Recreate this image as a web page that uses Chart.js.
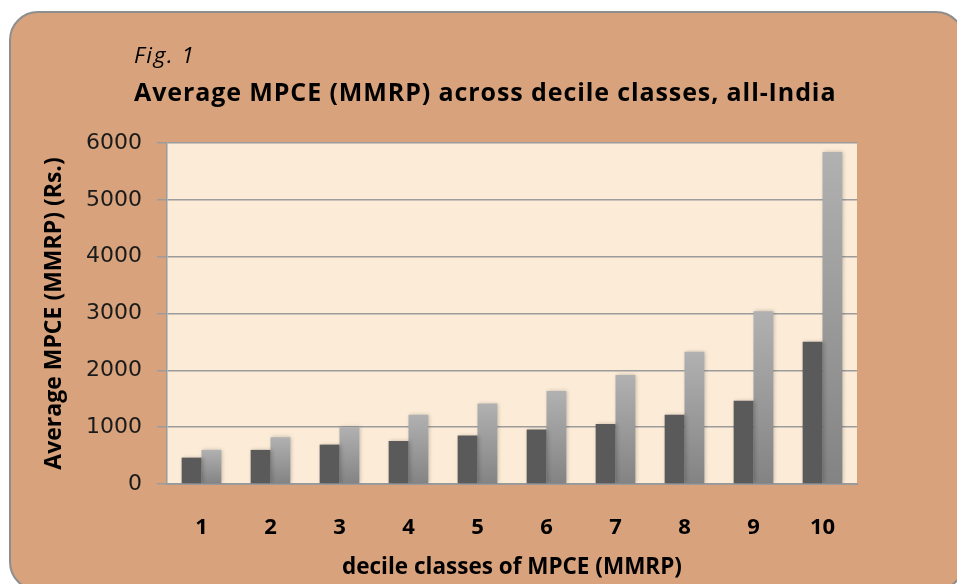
<!DOCTYPE html>
<html>
<head>
<meta charset="utf-8">
<title>Average MPCE (MMRP) across decile classes</title>
<script src="https://cdn.jsdelivr.net/npm/chart.js@4.4.1/dist/chart.umd.min.js"></script>
<style>
    html, body { margin: 0; padding: 0; background: #ffffff; }
    #wrap { width: 957px; height: 584px; }
</style>
</head>
<body>
<div id="wrap"><canvas id="mpce-chart" width="957" height="584"></canvas></div>
<script>
    "use strict";

    // Data
    var deciles = ["1", "2", "3", "4", "5", "6", "7", "8", "9", "10"];
    var darkSeries = [464, 600, 693, 758, 852, 958, 1054, 1218, 1464, 2501];
    var lightSeries = [600, 824, 1000, 1217, 1416, 1635, 1916, 2325, 3040, 5840];
    var yTicks = [0, 1000, 2000, 3000, 4000, 5000, 6000];

    var figLabel = "Fig. 1";
    var chartTitle = "Average MPCE (MMRP) across decile classes, all-India";

    var FONT = "'Open Sans', 'Noto Sans', sans-serif";
    var TICK_FONT = "'DejaVu Sans', 'Open Sans', sans-serif";

    // per-bar vertical gradient for the light series
    function lightFill(c) {
        var chart = c.chart;
        if (!chart.chartArea || c.type !== "data") return "#9c9c9c";
        var y = chart.scales.y;
        var top = y.getPixelForValue(c.raw);
        var bottom = y.getPixelForValue(0);
        var g = chart.ctx.createLinearGradient(0, top, 0, bottom);
        g.addColorStop(0, "#b1b1b1");
        g.addColorStop(1, "#838383");
        return g;
    }

    // Panel background, plot fill, bar shadow, titles
    var panel = {
        id: "panel",
        beforeDraw: function (chart) {
            var ctx = chart.ctx, a = chart.chartArea;
            ctx.save();
            ctx.fillStyle = "#ffffff";
            ctx.fillRect(0, 0, chart.width, chart.height);
            ctx.beginPath();
            ctx.roundRect(10, 12, 954, 578, 28);
            ctx.fillStyle = "#d8a27c";
            ctx.fill();
            ctx.lineWidth = 2;
            ctx.strokeStyle = "#8e8e8e";
            ctx.stroke();
            ctx.fillStyle = "#fbebd7";
            ctx.fillRect(a.left, a.top, a.right - a.left, a.bottom - a.top);
            ctx.restore();
        },
        beforeDatasetsDraw: function (chart) {
            var ctx = chart.ctx;
            ctx.save();
            ctx.shadowColor = "rgba(0,0,0,0.22)";
            ctx.shadowBlur = 4;
            ctx.shadowOffsetX = 1;
            ctx.shadowOffsetY = 0;
        },
        afterDatasetsDraw: function (chart) {
            chart.ctx.restore();
        },
        afterDraw: function (chart) {
            var ctx = chart.ctx;
            ctx.save();
            ctx.fillStyle = "#000000";
            ctx.textAlign = "left";
            ctx.textBaseline = "alphabetic";
            ctx.font = "italic 22.5px " + FONT;
            ctx.letterSpacing = "1.6px";
            ctx.fillText(figLabel, 134, 63);
            ctx.font = "bold 25px " + FONT;
            ctx.letterSpacing = "0.9px";
            ctx.fillText(chartTitle, 134, 101);
            ctx.restore();
        }
    };

    var ctx1 = document.getElementById("mpce-chart").getContext("2d");
    var mpceChart = new Chart(ctx1, {
        type: "bar",
        data: {
            labels: deciles,
            datasets: [{
                    label: "Series 1",
                    data: darkSeries,
                    backgroundColor: "#5a5a5a",
                    borderWidth: 0
                },
                {
                    label: "Series 2",
                    data: lightSeries,
                    backgroundColor: lightFill,
                    borderWidth: 0
                }
            ]
        },
        options: {
            responsive: false,
            animation: false,
            events: [],
            layout: {
                padding: { left: 30, right: 100, top: 143, bottom: 0 }
            },
            datasets: {
                bar: { categoryPercentage: 0.575, barPercentage: 1 }
            },
            plugins: {
                legend: { display: false },
                tooltip: { enabled: false },
                title: { display: false }
            },
            scales: {
                x: {
                    grid: { display: false },
                    border: { display: true, color: "#9a9a9a", width: 2 },
                    ticks: {
                        color: "#000000",
                        padding: 23,
                        font: { family: FONT, size: 22, weight: "bold" }
                    },
                    title: {
                        display: true,
                        text: "decile classes of MPCE (MMRP)",
                        color: "#000000",
                        padding: { top: 0, bottom: 3 },
                        font: { family: FONT, size: 22.5, weight: "bold" }
                    },
                    afterFit: function (s) { s.height = 100; }
                },
                y: {
                    min: 0,
                    max: 6000,
                    afterBuildTicks: function (s) {
                        s.ticks = yTicks.map(function (v) { return { value: v }; });
                    },
                    grid: {
                        color: "#9c9c9c",
                        lineWidth: 1.5,
                        tickLength: 10,
                        tickColor: "#9c9c9c"
                    },
                    border: { display: true, color: "#9c9c9c", width: 1.5 },
                    ticks: {
                        color: "#1a1a1a",
                        padding: 15,
                        font: { family: TICK_FONT, size: 22 },
                        callback: function (v) { return String(v); }
                    },
                    title: {
                        display: true,
                        text: "Average MPCE (MMRP) (Rs.)",
                        color: "#000000",
                        padding: { top: 11, bottom: 0 },
                        font: { family: FONT, size: 23, weight: "bold" }
                    },
                    afterFit: function (s) { s.width = 137; }
                }
            }
        },
        plugins: [panel]
    });
</script>
</body>
</html>
